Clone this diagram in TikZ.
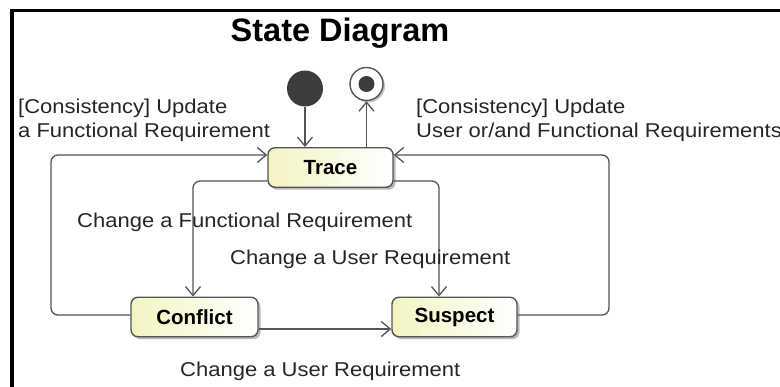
\documentclass[tikz,border=0pt]{standalone}
\usepackage{fontspec}
\setmainfont{Liberation Sans}
\newfontfamily\lblfont[FakeStretch=1.1]{Liberation Sans}
\usetikzlibrary{arrows.meta,shadows}
\definecolor{edgegray}{HTML}{555555}
\definecolor{dotgray}{HTML}{3C3C3C}
\definecolor{statefill}{HTML}{F4F4C2}
\begin{document}
\begin{tikzpicture}[x=1pt,y=-1pt,
  statebox/.style={draw=edgegray, line width=1.4pt, rounded corners=7pt,
    minimum width=#1, minimum height=39.5pt, inner sep=0pt,
    left color=statefill, right color=white,
    drop shadow={shadow xshift=2.5pt, shadow yshift=-2.5pt, fill=black!45, opacity=0.6},
    font=\fontsize{20.5}{24}\selectfont\bfseries},
  trans/.style={draw=edgegray, line width=1.3pt, rounded corners=7pt,
    -{Straight Barb[length=9pt,width=15pt,line width=1.3pt]}},
  lbl/.style={anchor=base west, inner sep=0pt, text=black!85,
    font=\lblfont\fontsize{20}{24}\selectfont}
]
\useasboundingbox (0,0) rectangle (780,387);
\fill[white] (0,0) rectangle (780,387);

% frame
\draw[line width=3.5pt, black] (12,400) -- (12,10.5) -- (800,10.5);

% title
\node[anchor=base, inner sep=0pt, font=\fontsize{32.5}{36}\selectfont\bfseries] (title) at (340,42) {State Diagram};

% pseudo states
\node[circle, fill=dotgray, minimum size=36pt, inner sep=0pt] (init) at (305,88.5) {};
\node[circle, draw=edgegray, line width=1.4pt, fill=white, minimum size=33pt, inner sep=0pt,
  drop shadow={shadow xshift=2pt, shadow yshift=-2pt, fill=black!45, opacity=0.5}] (final) at (366.5,84) {};
\node[circle, fill=dotgray, minimum size=16pt, inner sep=0pt] (finaldot) at (final.center) {};

% states
\node[statebox=125pt] (trace) at (330.5,167.5) {Trace};
\node[statebox=127pt] (conflict) at (194.5,317) {Conflict};
\node[statebox=125pt] (suspect) at (454.5,317) {Suspect};

% transitions
\draw[trans] (init.south) -- (init.south |- trace.north);
\draw[trans] (trace.north -| final.south) -- (final.south);
\draw[trans] ([yshift=2pt]conflict.west) -- (51,315) -- (51,155) -- ([yshift=12.5pt]trace.west);
\draw[trans] ([yshift=2pt]suspect.east) -- (609,315) -- (609,155) -- ([yshift=12.5pt]trace.east);
\draw[trans] ([yshift=-13.5pt]trace.west) -| ([xshift=-1.5pt]conflict.north);
\draw[trans] ([yshift=-13.5pt]trace.east) -| ([xshift=-15.5pt]suspect.north);
\draw[trans] ([yshift=-12pt]conflict.east) -- ([yshift=-12pt]suspect.west);

% transition labels
\node[lbl] (l1a) at (18,114) {[Consistency] Update};
\node[lbl] (l1b) at (18,138) {a Functional Requirement};
\node[lbl] (l2a) at (416,114) {[Consistency] Update};
\node[lbl] (l2b) at (416,138) {User or/and Functional Requirements};
\node[lbl] (l3) at (77,228) {Change a Functional Requirement};
\node[lbl] (l4) at (230,265) {Change a User Requirement};
\node[lbl] (l5) at (180,377) {Change a User Requirement};
\end{tikzpicture}
\end{document}
